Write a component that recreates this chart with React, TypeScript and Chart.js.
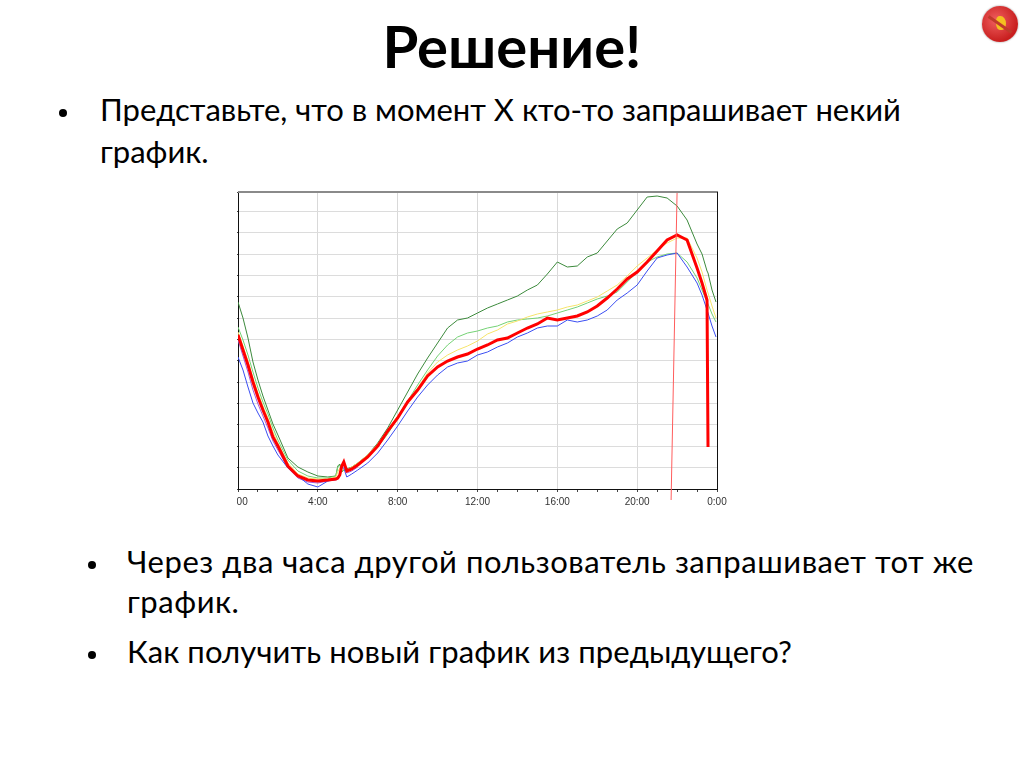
import React, { useEffect, useRef } from "react";
import { Chart, registerables } from "chart.js";

Chart.register(...registerables);

const hours = [0, 0.25, 0.5, 0.75, 1, 1.25, 1.5, 1.75, 2, 2.5, 3, 3.5, 4, 4.5, 4.9, 5.0, 5.1, 5.2, 5.3, 5.45, 5.7, 6, 6.5, 7, 7.5, 8, 8.5, 9, 9.5, 10, 10.5, 11, 11.5, 12, 12.5, 13, 13.5, 14, 14.5, 15, 15.5, 16, 16.5, 17, 17.5, 18, 18.5, 19, 19.5, 20, 20.5, 21, 21.5, 22, 22.5, 23, 23.25, 23.5, 23.55, 23.75, 23.95];

const darkGreen = [187, 171, 151, 127, 109, 93, 79, 65, 54, 31, 22, 17, 13, 12, 13, 23, 25, 17, 19, 20, 22, 26, 34, 46, 61, 79, 97, 115, 131, 146, 161, 169, 171, 176, 181, 185, 189, 193, 199, 204, 215, 227, 222, 223, 232, 236, 248, 260, 266, 279, 292, 293, 291, 283, 269, 245, 235, 218, 216, 199, 187];

const redSeries = [154, 139, 124, 107, 92, 79, 67, 52, 43, 23, 13, 9, 8, 9, 10, 11, 14, 23, 27, 18, 20, 24, 32, 43, 58, 71, 87, 99, 113, 122, 128, 132, 135, 140, 144, 149, 151, 156, 161, 165, 171, 169, 171, 173, 177, 183, 191, 200, 210, 217, 227, 238, 249, 254, 249, 221, 206, 189, 42, null, null];

const blueSeries = [132, 119, 102, 86, 76, 67, 53, 43, 34, 21, 13, 5, 2, 8, 10, 11, 15, 22, 21, 12, 15, 19, 26, 36, 49, 63, 78, 92, 104, 114, 122, 126, 128, 134, 137, 142, 146, 152, 156, 161, 163, 163, 169, 167, 169, 173, 179, 189, 196, 204, 218, 231, 234, 236, 222, 206, 194, 179, 176, 163, 152];

const lightGreen = [162, 149, 134, 117, 101, 87, 75, 61, 49, 29, 18, 13, 11, 11, 13, 22, 24, 18, 19, 19, 21, 25, 32, 42, 55, 71, 88, 104, 119, 133, 144, 152, 156, 158, 161, 163, 167, 169, 170, 171, 173, 176, 179, 182, 186, 190, 193, 197, 207, 217, 227, 232, 235, 236, 227, 211, 199, 187, 185, 175, 167];

const yellowSeries = [157, 143, 128, 111, 96, 83, 71, 57, 46, 26, 15, 11, 10, 10, 12, 17, 21, 21, 19, 19, 22, 26, 34, 45, 59, 73, 88, 101, 116, 127, 134, 139, 143, 148, 155, 159, 165, 168, 172, 175, 177, 179, 182, 184, 188, 192, 198, 204, 213, 223, 231, 239, 246, 251, 251, 231, 217, 199, 196, 183, 171];

const purpleSeries = [149, 133, 117, 99, 85, 73, 61, 48, 39, 21, 11, 7, 6, 8, 9, 10, 13, 21, 24, 16, 18, 22];

const markerX = [22.0, 21.7];
const markerY = [297, -11];

const Y_MAX = 297;
const Y_STEP = 21.35;

const toPoints = (xs: number[], ys: (number | null)[]) => ys.map((y, i) => ({ x: xs[i], y }));

const frame = {
  id: "frame",
  afterDraw(chart: any) {
    const { ctx, chartArea } = chart;
    ctx.save();
    ctx.strokeStyle = "#8a8a8a";
    ctx.lineWidth = 2;
    ctx.beginPath();
    ctx.moveTo(chartArea.left, chartArea.top);
    ctx.lineTo(chartArea.right + 1, chartArea.top);
    ctx.stroke();
    ctx.strokeStyle = "#111";
    ctx.lineWidth = 1;
    ctx.beginPath();
    ctx.moveTo(chartArea.right + 0.5, chartArea.top);
    ctx.lineTo(chartArea.right + 0.5, chartArea.bottom);
    ctx.stroke();
    ctx.restore();
  },
};

function TrafficChart() {
  const ref = useRef<HTMLCanvasElement | null>(null);
  useEffect(() => {
    if (!ref.current) return;
    const line = (label: string, data: any[], color: string, width: number) => ({
      label,
      data,
      borderColor: color,
      backgroundColor: color,
      borderWidth: width,
      pointRadius: 0,
      tension: 0,
      fill: false,
      spanGaps: false,
    });
    const chart = new Chart(ref.current, {
      type: "line",
      data: {
        datasets: [
          { ...line("marker", toPoints(markerX, markerY), "#ff5c5c", 1), clip: false } as any,
          line("red", toPoints(hours, redSeries), "#ff0000", 3),
          line("blue", toPoints(hours, blueSeries), "#3b4ef2", 1),
          line("yellow", toPoints(hours, yellowSeries), "#f6e46a", 1),
          line("lightgreen", toPoints(hours, lightGreen), "#74d274", 1),
          line("purple", toPoints(hours, purpleSeries), "#a45ad6", 1),
          line("darkgreen", toPoints(hours, darkGreen), "#3c8a3c", 1),
        ],
      },
      options: {
        animation: false,
        responsive: false,
        devicePixelRatio: 1,
        layout: { padding: { top: 10, right: 15, left: 0, bottom: 0 } },
        plugins: { legend: { display: false }, tooltip: { enabled: false } },
        scales: {
          x: {
            type: "linear",
            min: 0,
            max: 24,
            afterFit: (s: any) => {
              s.height = 30;
              s.paddingLeft = 0;
              s.paddingRight = 0;
            },
            ticks: {
              stepSize: 1,
              autoSkip: false,
              maxRotation: 0,
              padding: 4,
              color: "#333",
              font: { family: "'Liberation Sans', Arial, sans-serif", size: 10 },
              callback: (v: any) => (Number(v) % 4 === 0 ? `${Number(v) % 24}:00` : ""),
            },
            grid: {
              color: (c: any) => (c.tick && c.tick.value % 4 === 0 ? "#d9d9d9" : "rgba(0,0,0,0)"),
              tickColor: "#444",
              tickLength: 3,
            },
            border: { color: "#111", width: 1 },
          },
          y: {
            min: 0,
            max: Y_MAX,
            afterFit: (s: any) => {
              s.width = 1;
            },
            ticks: { display: false, stepSize: Y_STEP },
            grid: { color: "#dcdcdc", tickColor: "#444", tickLength: 3 },
            border: { color: "#111", width: 1 },
          },
        },
      },
      plugins: [frame],
    });
    return () => chart.destroy();
  }, []);
  return <canvas ref={ref} width={495} height={337} style={{ display: "block", width: 495, height: 337 }} />;
}

const font = "Lato, 'Noto Sans', sans-serif";

const Bullet = ({ x, y, size }: { x: number; y: number; size: number }) => (
  <div style={{ position: "absolute", left: x - size / 2, top: y - size / 2, width: size, height: size, borderRadius: "50%", background: "#000" }} />
);

const Text = ({ x, y, size, children, bold, spacing }: any) => (
  <div
    style={{
      position: "absolute",
      left: x,
      top: y,
      fontFamily: font,
      fontSize: size,
      lineHeight: `${size * 1.2}px`,
      whiteSpace: "nowrap",
      color: "#000",
      fontWeight: bold ? 700 : 400,
      letterSpacing: spacing || 0,
    }}
  >
    {children}
  </div>
);

export default function App() {
  return (
    <div style={{ position: "absolute", left: 0, top: 0, width: 1024, height: 768, background: "#fff", overflow: "hidden" }}>
      <div style={{ position: "absolute", left: 0, top: 11, width: 1024, textAlign: "center", fontFamily: font, fontWeight: 700, fontSize: 58, lineHeight: "70px", color: "#000" }}>
        Решение!
      </div>
      <div
        style={{
          position: "absolute",
          left: 982,
          top: 6,
          width: 36,
          height: 36,
          borderRadius: "50%",
          background: "radial-gradient(circle at 40% 40%, #f06060, #c81e1e 70%)",
          boxShadow: "0 0 2px #888",
        }}
      >
        <div style={{ position: "absolute", left: 14, top: 10, width: 10, height: 14, borderRadius: "40% 60% 50% 50%", background: "#f4c020" }} />
        <div style={{ position: "absolute", left: 4, top: 17, width: 28, height: 3, background: "#c0392b", transform: "rotate(35deg)" }} />
      </div>

      <Bullet x={63} y={113} size={8} />
      <Text x={100} y={91} size={31}>Представьте, что в момент X кто-то запрашивает некий</Text>
      <Text x={100} y={133} size={31}>график.</Text>

      <div style={{ position: "absolute", left: 237, top: 182 }}>
        <TrafficChart />
      </div>

      <Bullet x={92} y={565} size={8} />
      <Text x={127} y={543} size={31} spacing={0.55}>Через два часа другой пользователь запрашивает тот же</Text>
      <Text x={127} y={583} size={31} spacing={0.55}>график.</Text>
      <Bullet x={92} y={655} size={8} />
      <Text x={127} y={633} size={31} spacing={0.1}>Как получить новый график из предыдущего?</Text>
    </div>
  );
}
